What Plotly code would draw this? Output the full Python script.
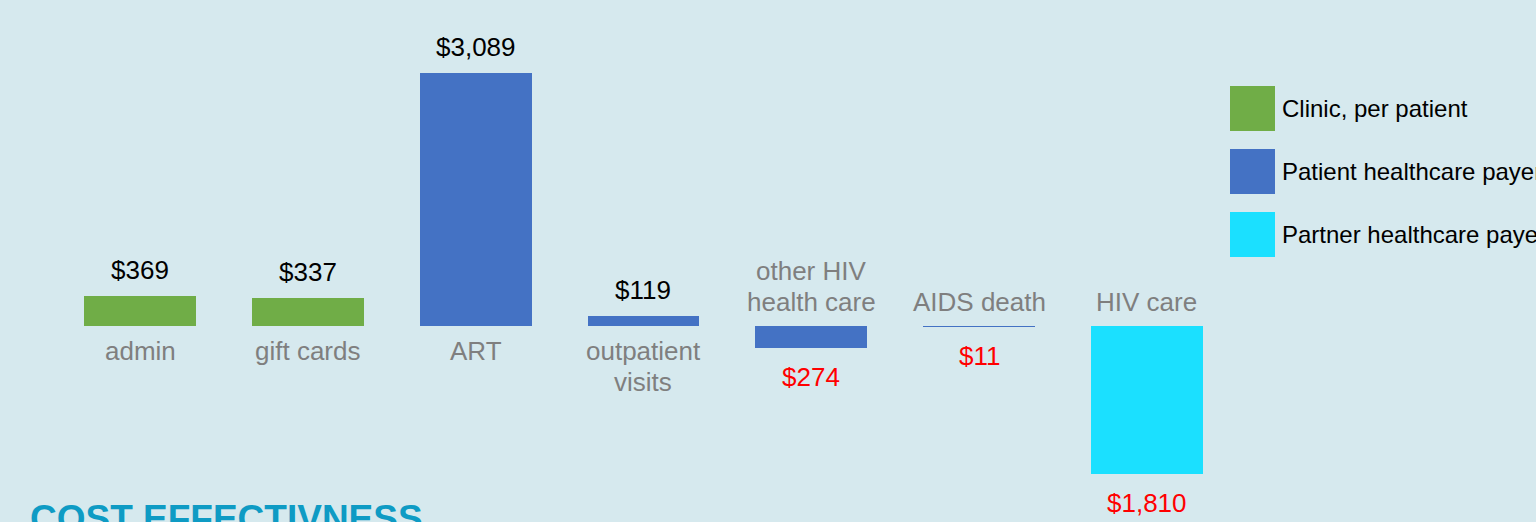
import plotly.graph_objects as go

# ---- data ----
categories = ["admin", "gift cards", "ART", "outpatient<br>visits",
              "other HIV<br>health care", "AIDS death", "HIV care"]
values = [369, 337, 3089, 119, -274, -11, -1810]
groups = ["Clinic, per patient", "Clinic, per patient",
          "Patient healthcare payer", "Patient healthcare payer",
          "Patient healthcare payer", "Patient healthcare payer",
          "Partner healthcare payer"]
legend_names = ["Clinic, per patient", "Patient healthcare payer", "Partner healthcare payer"]
title_text = "COST EFFECTIVNESS"

# ---- style ----
W, H = 1536, 522
colors = {"Clinic, per patient": "#70AD47",
          "Patient healthcare payer": "#4472C4",
          "Partner healthcare payer": "#1BE0FF"}
FONT = "Liberation Sans, Arial, sans-serif"
bg = "#d6e9ee"
LINE = 31  # px between label lines

xs = list(range(len(categories)))

fig = go.Figure()
for g in legend_names:
    gx = [x for x, gg in zip(xs, groups) if gg == g]
    gy = [v for v, gg in zip(values, groups) if gg == g]
    fig.add_trace(go.Bar(x=gx, y=gy, name=g, width=0.667,
                         marker=dict(color=colors[g], line=dict(width=0)),
                         showlegend=False, hoverinfo="skip"))

annotations = []
for x, v, c in zip(xs, values, categories):
    lab = "${:,}".format(abs(v))
    lines = c.split("<br>")
    n = len(lines)
    if v >= 0:
        annotations.append(dict(x=x, y=v, xref="x", yref="y", text=lab, showarrow=False,
                                yanchor="bottom", yshift=9,
                                font=dict(family=FONT, size=26, color="#000000")))
        for k, ln in enumerate(lines):
            annotations.append(dict(x=x, y=0, xref="x", yref="y", text=ln, showarrow=False,
                                    yanchor="top", yshift=-8 - k * LINE,
                                    font=dict(family=FONT, size=26, color="#7f7f7f")))
    else:
        annotations.append(dict(x=x, y=v, xref="x", yref="y", text=lab, showarrow=False,
                                yanchor="top", yshift=-12,
                                font=dict(family=FONT, size=26, color="#ff0000")))
        for k, ln in enumerate(lines):
            annotations.append(dict(x=x, y=0, xref="x", yref="y", text=ln, showarrow=False,
                                    yanchor="bottom", yshift=7 + (n - 1 - k) * LINE,
                                    font=dict(family=FONT, size=26, color="#7f7f7f")))

# legend (manual, large squares)
shapes = []
for i, name in enumerate(legend_names):
    top = 86 + i * 63
    shapes.append(dict(type="rect", xref="paper", yref="paper",
                       x0=1230 / W, x1=1275 / W, y0=1 - (top + 45) / H, y1=1 - top / H,
                       fillcolor=colors[name], line=dict(width=0)))
    annotations.append(dict(x=1280 / W, y=1 - (top + 22.5) / H, xref="paper", yref="paper",
                            text=name, showarrow=False, xanchor="left", yanchor="middle",
                            font=dict(family=FONT, size=24, color="#000000")))

annotations.append(dict(x=28 / W, y=1 - 496 / H, xref="paper", yref="paper",
                        text="<b>" + title_text + "</b>", showarrow=False,
                        xanchor="left", yanchor="top",
                        font=dict(family=FONT, size=37, color="#0E9BC4")))

scale = 253 / 3089  # px per dollar
y_top = 326 / scale
y_bot = -(H - 326) / scale
step = 167.83

fig.update_layout(
    width=W, height=H,
    margin=dict(l=0, r=0, t=0, b=0),
    paper_bgcolor=bg, plot_bgcolor=bg,
    xaxis=dict(range=[-140 / step, (W - 140) / step], visible=False, fixedrange=True),
    yaxis=dict(range=[y_bot, y_top], visible=False, fixedrange=True),
    annotations=annotations, shapes=shapes,
    bargap=0, showlegend=False,
)

fig.write_html("out.html", config={"displayModeBar": False})
